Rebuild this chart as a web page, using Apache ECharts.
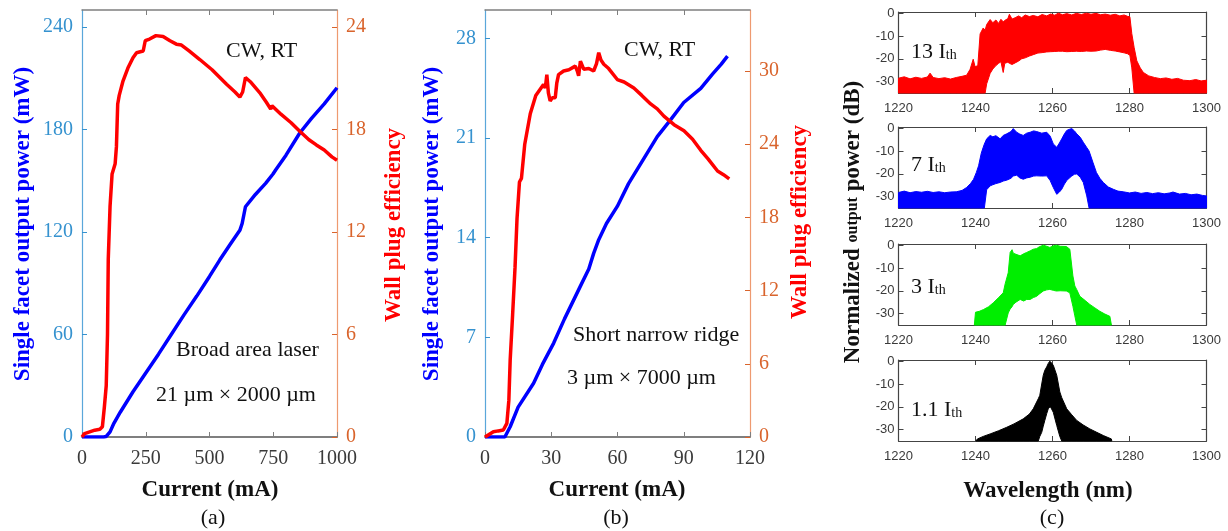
<!DOCTYPE html>
<html><head><meta charset="utf-8">
<script src="https://cdn.jsdelivr.net/npm/echarts@6/dist/echarts.min.js"></script>
<style>html,body{margin:0;padding:0;background:#fff}#c{width:1228px;height:531px}</style>
</head><body><div id="c"></div>
<script>
// ---------- Panel (a): broad area laser ----------
const currentA_P = [0, 20, 40, 60, 75, 85, 95, 110, 125, 150, 200, 250, 300, 350, 400, 450, 500, 540, 580, 619, 628, 641, 680, 720, 749, 760, 800, 854, 900, 950, 1000];
const powerA     = [0, 0, 0, 0, 0, 0, 0.3, 3, 8, 14.5, 26.5, 37.5, 48.5, 60, 71.5, 82.5, 94, 103.6, 112.5, 121, 125, 134.8, 142, 148.5, 154, 156.5, 165, 178, 186.5, 195, 204.5];
const currentA_W = [0, 10, 30, 50, 70, 80, 88, 95, 100, 103, 110, 118, 130, 135, 140, 146, 160, 180, 200, 214, 240, 248, 265, 290, 318, 345, 370, 390, 420, 462, 510, 567, 600, 619, 630, 641, 660, 700, 723, 740, 745, 780, 820, 854, 890, 919, 950, 980, 1000];
const wpeA       = [0, 0.2, 0.3, 0.4, 0.45, 0.6, 1.8, 3.0, 6, 10.4, 13.5, 15.4, 16.0, 17, 19.5, 20, 20.8, 21.6, 22.2, 22.5, 22.6, 23.2, 23.3, 23.5, 23.45, 23.2, 23.0, 22.95, 22.6, 22.1, 21.5, 20.65, 20.2, 19.9, 20.2, 21.05, 20.8, 20.1, 19.6, 19.2, 19.4, 18.9, 18.4, 17.9, 17.4, 17.1, 16.8, 16.4, 16.2];
const ticksA_x = [0, 250, 500, 750, 1000];
const ticksA_P = [0, 60, 120, 180, 240];
const ticksA_W = [0, 6, 12, 18, 24];

// ---------- Panel (b): short narrow ridge ----------
const currentB_P = [0, 5, 9, 11.4, 15, 22, 26, 31.1, 36, 43.2, 47, 49.2, 51.5, 55, 59.9, 65, 73.5, 78, 84.1, 90, 97.7, 103, 107, 109.8];
const powerB     = [0, 0, 0, 0.72, 2.1, 3.78, 5.1, 6.6, 8.3, 10.6, 11.8, 12.9, 13.86, 15, 16.2, 17.8, 19.96, 21.1, 22.3, 23.5, 24.5, 25.5, 26.2, 26.76];
const currentB_W = [0, 0.8, 3.8, 6, 8.3, 9.9, 10.8, 11.4, 12.5, 13.6, 14.5, 15.6, 16.5, 18, 20.5, 23, 26.5, 27.3, 28, 28.7, 29.5, 30.5, 31.8, 32.5, 33.3, 35.6, 38, 40.9, 41.8, 42.4, 43.2, 44.7, 47, 49.2, 50.5, 51.5, 52.5, 53.8, 56, 59.9, 63, 67.4, 71, 75, 78, 81, 85.6, 90.1, 94, 97.7, 101, 105.3, 108, 110.6];
const wpeB       = [0, 0, 0.43, 0.5, 0.57, 1.12, 3, 6.3, 10, 13.9, 17.9, 20.9, 21.2, 24, 26.5, 28, 28.9, 28.6, 29.7, 28.2, 27.55, 27.8, 27.8, 29, 29.7, 30.0, 30.1, 30.4, 30.0, 29.6, 30.8, 30.15, 30.2, 30.0, 30.6, 31.5, 30.9, 30.55, 30.2, 29.3, 29.1, 28.6, 28.0, 27.3, 26.9, 26.3, 25.6, 25.1, 24.4, 23.5, 22.8, 21.8, 21.5, 21.15];
const ticksB_x = [0, 30, 60, 90, 120];
const ticksB_P = [0, 7, 14, 21, 28];
const ticksB_W = [0, 6, 12, 18, 24, 30];

// ---------- Panel (c): spectra (upper / lower envelope of the dense trace, dB) ----------
const wl1 = [1220,1221.5,1223,1224.5,1226,1227.5,1228.2,1229,1230.5,1232,1233.5,1235,1236.5,1237.7,1238.6,1239.4,1239.9,1240.6,1241.2,1242,1242.5,1242.9,1243.8,1244.5,1245.3,1246,1246.6,1247.2,1247.6,1248.4,1248.8,1249.5,1250.3,1251.2,1252,1252.9,1254,1255,1256.2,1257.3,1258.5,1259.5,1260.6,1261.5,1262.6,1263.7,1265,1266.2,1267.5,1268.8,1270,1271.3,1272.5,1273.7,1275,1276.3,1277.5,1278.6,1279.5,1280.1,1280.6,1281.2,1281.9,1282.8,1283.6,1285,1286.5,1288,1289.5,1291,1292.5,1294,1295.7,1297.2,1298.6,1300];
const up1 = [-28.5,-27.9,-28.8,-28.1,-28.6,-28.0,-26.3,-28.2,-28.7,-28.3,-28.9,-28.2,-27.7,-27.2,-24.6,-20.2,-23.5,-23.0,-9.1,-6.5,-7.5,-5.0,-2.8,-4.2,-3.0,-4.5,-2.7,-3.8,-3.2,-2.4,-0.5,-2.6,-2.0,-1.2,-2.0,-0.8,-1.5,-1.0,-1.6,-0.6,-1.2,-0.4,-0.9,0,-0.7,-0.2,-0.8,-0.1,-0.6,0,-0.5,-0.1,-0.7,-0.4,-0.9,-0.5,-1.2,-0.8,-1.4,-1.6,-9,-15,-20.9,-24,-26,-27.5,-28.2,-28.7,-28.4,-29.0,-28.6,-29.4,-29.6,-29.1,-29.7,-29.4];
const lo1 = [-35,-35,-35,-35,-35,-35,-35,-35,-35,-35,-35,-35,-35,-35,-35,-35,-35,-35,-35,-35,-35,-31,-26.4,-24.5,-23,-22,-21.3,-26,-22,-21.5,-22,-22.5,-21.8,-21,-20,-19.6,-18.8,-18.2,-17.5,-17.3,-17,-16.9,-16.8,-16.7,-16.7,-16.9,-16.8,-16.7,-16.8,-16.6,-16.7,-16.6,-16.2,-15.9,-16.3,-16.6,-17,-17.4,-17.8,-18.5,-24,-35,-35,-35,-35,-35,-35,-35,-35,-35,-35,-35,-35,-35,-35,-35];

const wl2 = [1220,1221.5,1223,1224.5,1226,1227.5,1229,1230.5,1232,1233.5,1235,1236.5,1237.7,1238.7,1239.5,1240.2,1240.8,1241.5,1242,1242.3,1242.9,1243.8,1244.5,1245.3,1246.4,1247.2,1248.1,1249.2,1249.8,1250.7,1251.5,1252.4,1253.3,1254.2,1255.1,1255.9,1257.2,1258.5,1259.4,1260.2,1261.1,1261.8,1262.4,1263.1,1263.7,1264.4,1265,1265.7,1266.3,1267.2,1268,1268.9,1269.5,1270.5,1271.4,1272.3,1273.2,1274.5,1275.8,1277,1278.4,1280,1281.5,1283,1284.5,1286,1287.5,1289,1290.5,1291.3,1293,1294.5,1296,1297.5,1299,1300];
const up2 = [-28.2,-27.6,-28.3,-27.8,-28.1,-27.7,-28.2,-27.9,-28.3,-28,-27.9,-27.3,-26,-24.3,-22.4,-19.5,-16.5,-11,-8.4,-7,-4.7,-3.2,-3.8,-3.3,-4.7,-3.2,-2.5,-1.5,-0.2,-1.8,-2.6,-3.2,-2.2,-1.8,-1.2,-1.5,-2.2,-1.8,-3.5,-6.9,-8.4,-6.5,-4.7,-2.5,-1,-0.5,-0.2,-1.2,-2.5,-4,-6.2,-8.5,-10,-15,-19.4,-22,-23.8,-25.8,-26.8,-27.6,-27.9,-28.4,-28,-28.6,-28.2,-28.7,-28.3,-28.8,-28.4,-28.0,-28.9,-28.6,-29.2,-28.9,-29.5,-29.7];
const lo2 = [-35,-35,-35,-35,-35,-35,-35,-35,-35,-35,-35,-35,-35,-35,-35,-35,-35,-35,-35,-35,-27,-25.3,-24.8,-24.3,-23.8,-23.2,-22.8,-22,-21,-20.6,-21.8,-22.4,-21.8,-21.5,-21,-20.9,-21,-20.9,-23,-26,-29,-28,-26.8,-24.5,-23,-21.8,-21,-20.2,-20.1,-21.5,-23.8,-29.7,-35,-35,-35,-35,-35,-35,-35,-35,-35,-35,-35,-35,-35,-35,-35,-35,-35,-35,-35,-35,-35,-35,-35,-35];

const wl3 = [1239.7,1240,1241,1242.1,1243.4,1244.6,1246,1247.2,1247.7,1248.5,1249,1249.5,1249.8,1250.5,1251.6,1252.5,1253.3,1254.2,1255,1255.9,1256.5,1257.6,1258.5,1259.3,1260.2,1261,1262,1263.6,1264.5,1265.3,1265.8,1266.3,1267.1,1268.5,1269.7,1271,1272.3,1273.6,1274.9,1275.3];
const up3 = [-35,-29.4,-29,-28.2,-27,-25.3,-23,-20.9,-17,-12.1,-3.2,-2,-3.5,-4,-4.7,-3.8,-3.2,-2.5,-1.8,-1.5,-0.8,0,-0.5,-1,-0.3,0,-0.5,-0.6,-1.8,-13.5,-17.9,-19.5,-22.4,-24.3,-26,-27.5,-29,-30.2,-31.2,-35];
const lo3 = [-35,-35,-35,-35,-35,-35,-35,-35,-35,-29.7,-28,-27,-26,-25,-23.8,-24.5,-23.8,-23.8,-23,-22.4,-21.5,-20.1,-19.6,-19.4,-19.8,-20.1,-20,-20.1,-20.9,-26.8,-31,-35,-35,-35,-35,-35,-35,-35,-35,-35];

const wl4 = [1240.1,1240.5,1242,1243.8,1246,1248.1,1250,1252.4,1254,1255,1256,1256.3,1256.7,1257.2,1257.6,1258,1258.5,1258.9,1259.3,1259.5,1260.2,1261.1,1261.9,1262.4,1263.7,1265,1266.3,1268,1269.7,1271.5,1273.2,1275.3,1275.4];
const up4 = [-35,-34.1,-33,-31.9,-30.5,-29,-27.5,-25.3,-23.2,-20.9,-17.5,-16.5,-15,-10,-6.2,-4,-2.5,-1,0,-0.3,-1.8,-6.2,-13.5,-16,-20.9,-23.5,-26,-28,-29.7,-31.2,-32.6,-34.1,-35];
const lo4 = [-35,-35,-35,-35,-35,-35,-35,-35,-35,-35,-35,-35,-33,-31.2,-28.5,-26,-23,-20.9,-20.2,-20.1,-22.4,-28.2,-33,-35,-35,-35,-35,-35,-35,-35,-35,-35,-35];

const specLabels = ['13', '7', '3', '1.1'];
const specColors = ['#ff0000', '#0000ff', '#00ee00', '#000000'];
const ticksC_x = [1220, 1240, 1260, 1280, 1300];
const ticksC_y = [0, -10, -20, -30];

// ---------- layout ----------
const SERIF = 'Liberation Serif';
const SANS = 'Liberation Sans';
const blueAx = '#3592cf', blueAxLine = '#5aa7da';
const orAx = '#d9642c', orAxLine = '#ee9a70';
const grayAx = '#7f7f7f';
const plain = v => String(v);

const grids = [
  {left: 82, top: 10, width: 255, height: 427},
  {left: 485, top: 10, width: 265, height: 427}
];
const specTops = [12, 127, 244, 360];
specTops.forEach(t => grids.push({left: 898.5, top: t, width: 308, height: 81}));

function xAx(grid, min, max, ticks, pos, showLabels, lineColor, lineWidth, fontFamily, fontSize, labColor, margin) {
  return {
    type: 'value', gridIndex: grid, min: min, max: max, position: pos,
    splitLine: {show: false},
    axisLine: {show: true, onZero: false, lineStyle: {color: lineColor, width: lineWidth}},
    axisTick: {show: true, inside: true, length: 5, customValues: ticks, lineStyle: {color: lineColor}},
    axisLabel: {show: showLabels, customValues: ticks, formatter: plain, fontFamily: fontFamily, fontSize: fontSize, color: labColor, margin: margin}
  };
}
function yAx(grid, min, max, ticks, pos, showLabels, lineColor, tickColor, labColor, fontFamily, fontSize, margin) {
  return {
    type: 'value', gridIndex: grid, min: min, max: max, position: pos,
    splitLine: {show: false},
    axisLine: {show: true, onZero: false, lineStyle: {color: lineColor, width: 1.2}},
    axisTick: {show: true, inside: true, length: 5, customValues: ticks, lineStyle: {color: tickColor}},
    axisLabel: {show: showLabels, customValues: ticks, formatter: plain, fontFamily: fontFamily, fontSize: fontSize, color: labColor, margin: margin}
  };
}

const xAxes = [
  xAx(0, 0, 1000, ticksA_x, 'bottom', true, grayAx, 2, SERIF, 20, '#3a3a3a', 12),
  xAx(0, 0, 1000, ticksA_x.slice(1, 4), 'top', false, grayAx, 1.5, SERIF, 20, '#3a3a3a', 9),
  xAx(1, 0, 120, ticksB_x, 'bottom', true, grayAx, 2, SERIF, 20, '#3a3a3a', 12),
  xAx(1, 0, 120, ticksB_x.slice(1, 4), 'top', false, grayAx, 1.5, SERIF, 20, '#3a3a3a', 9)
];
const yAxes = [
  yAx(0, 0, 250, ticksA_P, 'left', true, blueAxLine, blueAx, blueAx, SERIF, 20, 9),
  yAx(0, 0, 25, ticksA_W, 'right', true, orAxLine, orAx, orAx, SERIF, 20, 9),
  yAx(1, 0, 30, ticksB_P, 'left', true, blueAxLine, blueAx, blueAx, SERIF, 20, 9),
  yAx(1, 0, 35, ticksB_W, 'right', true, orAxLine, orAx, orAx, SERIF, 20, 9)
];
const specBase = xAxes.length;
for (let i = 0; i < 4; i++) {
  xAxes.push(xAx(2 + i, 1220, 1300, ticksC_x, 'bottom', true, '#444', 1, SANS, 13, '#3a3a3a', 9));
  yAxes.push(yAx(2 + i, -35, 0.5, ticksC_y, 'left', true, '#444', '#444', '#3a3a3a', SANS, 13, 4));
}
for (let i = 0; i < 4; i++) {
  xAxes.push(xAx(2 + i, 1220, 1300, ticksC_x.slice(1, 4), 'top', false, '#444', 1, SANS, 13, '#333', 6));
  yAxes.push(yAx(2 + i, -35, 0.5, ticksC_y.slice(1), 'right', false, '#444', '#444', '#333', SANS, 13, 4));
}

function pairs(xs, ys) { return xs.map((x, i) => [x, ys[i]]); }
function lineSeries(xi, yi, xs, ys, color, z) {
  return {type: 'line', xAxisIndex: xi, yAxisIndex: yi, data: pairs(xs, ys), showSymbol: false, symbol: 'none',
    lineStyle: {color: color, width: 3.5}, z: z, animation: false, clip: true};
}
function bandSeries(i, wl, up, lo, color) {
  return {
    type: 'custom', xAxisIndex: specBase + i, yAxisIndex: 4 + i, animation: false,
    data: [[wl[0], up[0]]],
    encode: {x: 0, y: 1},
    renderItem: function (params, api) {
      const pts = [];
      for (let k = 0; k < wl.length; k++) pts.push(api.coord([wl[k], up[k]]));
      for (let k = wl.length - 1; k >= 0; k--) pts.push(api.coord([wl[k], lo[k]]));
      return {type: 'polygon', shape: {points: pts}, style: {fill: color, stroke: color, lineWidth: 1}};
    }
  };
}

const series = [
  lineSeries(0, 0, currentA_P, powerA, '#0000ff', 3),
  lineSeries(0, 1, currentA_W, wpeA, '#ff0000', 4),
  lineSeries(2, 2, currentB_P, powerB, '#0000ff', 3),
  lineSeries(2, 3, currentB_W, wpeB, '#ff0000', 4),
  bandSeries(0, wl1, up1, lo1, specColors[0]),
  bandSeries(1, wl2, up2, lo2, specColors[1]),
  bandSeries(2, wl3, up3, lo3, specColors[2]),
  bandSeries(3, wl4, up4, lo4, specColors[3])
];

function txt(x, y, text, size, color, opts) {
  opts = opts || {};
  return {type: 'text', x: x, y: y, rotation: opts.rot || 0, z: 100,
    style: {text: text, fontFamily: SERIF, fontSize: size, fontWeight: opts.bold ? 'bold' : 'normal',
      fill: color, align: opts.align || 'center', verticalAlign: 'middle', rich: opts.rich}};
}
const R = Math.PI / 2;
const graphics = [
  txt(23, 224, 'Single facet output power (mW)', 23, '#0000ff', {rot: R, bold: true}),
  txt(394, 225, 'Wall plug efficiency', 23, '#ff0000', {rot: R, bold: true}),
  txt(432, 224, 'Single facet output power (mW)', 23, '#0000ff', {rot: R, bold: true}),
  txt(800, 222, 'Wall plug efficiency', 23, '#ff0000', {rot: R, bold: true}),
  txt(210, 490, 'Current (mA)', 23, '#111', {bold: true}),
  txt(617, 490, 'Current (mA)', 23, '#111', {bold: true}),
  txt(213, 518, '(a)', 22, '#111'),
  txt(616, 518, '(b)', 22, '#111'),
  txt(1052, 518, '(c)', 22, '#111'),
  txt(1048, 491, 'Wavelength (nm)', 23, '#111', {bold: true}),
  txt(853, 222, '{b|Normalized }{s|output}{b| power (dB)}', 23, '#111', {rot: R, rich: {
    b: {fontFamily: SERIF, fontSize: 23, fontWeight: 'bold', fill: '#111'},
    s: {fontFamily: SERIF, fontSize: 16, fontWeight: 'bold', fill: '#111'}}}),
  txt(226, 51, 'CW, RT', 22, '#111', {align: 'left'}),
  txt(176, 350, 'Broad area laser', 22, '#111', {align: 'left'}),
  txt(156, 395, '21 µm × 2000 µm', 22, '#111', {align: 'left'}),
  txt(624, 50, 'CW, RT', 22, '#111', {align: 'left'}),
  txt(573, 335, 'Short narrow ridge', 22, '#111', {align: 'left'}),
  txt(567, 378, '3 µm × 7000 µm', 22, '#111', {align: 'left'})
];
const specLabelY = [52, 165, 287, 410];
specLabels.forEach((s, i) => {
  graphics.push(txt(911, specLabelY[i], '{a|' + s + ' I}{b|th}', 22, '#111', {align: 'left', rich: {
    a: {fontFamily: SERIF, fontSize: 22, fill: '#111'},
    b: {fontFamily: SERIF, fontSize: 14, fill: '#111', padding: [6, 0, 0, 0]}}}));
});

const chart = echarts.init(document.getElementById('c'), null, {renderer: 'canvas'});
chart.setOption({
  animation: false,
  backgroundColor: '#fff',
  grid: grids,
  xAxis: xAxes,
  yAxis: yAxes,
  series: series,
  graphic: graphics
});
</script></body></html>
